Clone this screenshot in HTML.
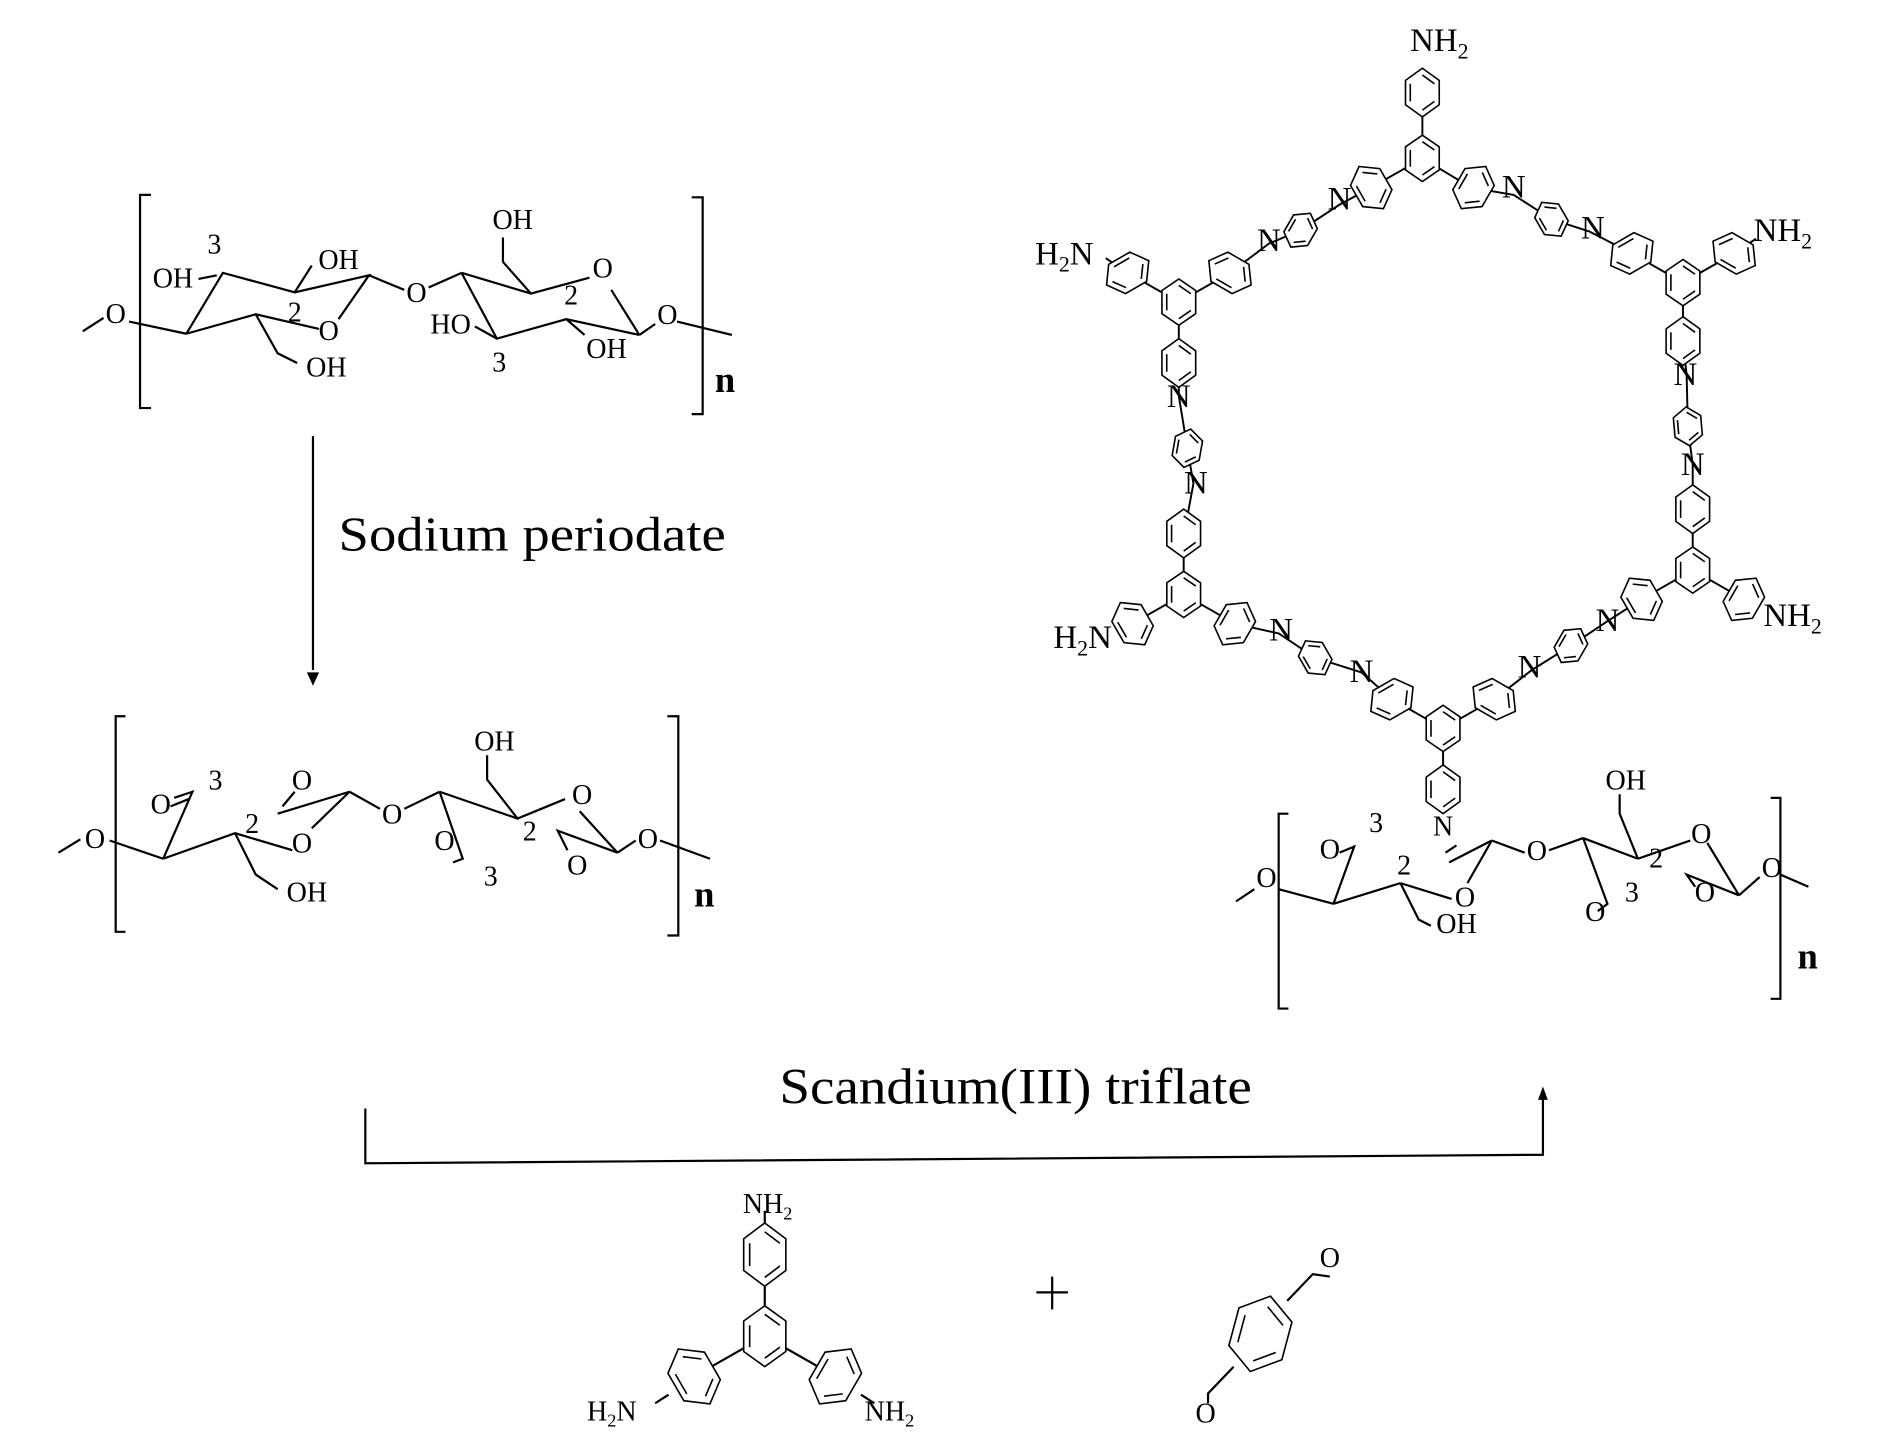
<!DOCTYPE html>
<html><head><meta charset="utf-8"><style>
html,body{margin:0;padding:0;background:#fff;width:1890px;height:1441px;overflow:hidden}
svg{display:block}
text{font-family:"Liberation Serif",serif;fill:#000}
</style></head><body>
<svg width="1890" height="1441" viewBox="0 0 1552 1183" preserveAspectRatio="none" xmlns="http://www.w3.org/2000/svg">
<defs>
<g id="bz">
<polygon points="0,-1 0.866,-0.5 0.866,0.5 0,1 -0.866,0.5 -0.866,-0.5" fill="#fff" stroke="#000" stroke-width="1.6" vector-effect="non-scaling-stroke"/>
<g stroke="#000" stroke-width="1.6" vector-effect="non-scaling-stroke" fill="none">
<line x1="0" y1="-0.72" x2="0.62" y2="-0.36" vector-effect="non-scaling-stroke"/>
<line x1="0.62" y1="0.36" x2="0" y2="0.72" vector-effect="non-scaling-stroke"/>
<line x1="-0.62" y1="0.36" x2="-0.62" y2="-0.36" vector-effect="non-scaling-stroke"/>
</g>
</g>
</defs>
<g stroke="#000" stroke-width="1.8" fill="none">
<polyline points="124,160 115,160 115,335 124,335"/>
<polyline points="568,162 577,162 577,340 568,340"/>
<line x1="68" y1="272" x2="85" y2="261"/>
<line x1="106" y1="264" x2="153" y2="274"/>
<polyline points="153,274 183,224 242,240 303,226 278,262"/>
<polyline points="262,270 210,258 153,274"/>
<line x1="163" y1="229" x2="178" y2="226"/>
<line x1="242" y1="240" x2="256" y2="218"/>
<polyline points="210,258 228,290 244,298"/>
<line x1="303" y1="226" x2="332" y2="238"/>
<line x1="352" y1="236" x2="379" y2="224"/>
<polyline points="379,224 436,241 484,228"/>
<line x1="502" y1="238" x2="525" y2="275"/>
<polyline points="525,275 465,262 408,278 379,224"/>
<line x1="390" y1="268" x2="408" y2="278"/>
<line x1="465" y1="262" x2="480" y2="275"/>
<polyline points="436,241 413,215 413,195"/>
<line x1="525" y1="275" x2="538" y2="266"/>
<line x1="556" y1="264" x2="601" y2="275"/>
<line x1="257" y1="358" x2="257" y2="550"/>
<polyline points="103,588 95,588 95,765 103,765"/>
<polyline points="548,588 557,588 557,768 548,768"/>
<line x1="48" y1="700" x2="66" y2="689"/>
<line x1="90" y1="690" x2="134" y2="705"/>
<polyline points="134,705 158,650 143,655"/>
<line x1="140" y1="662" x2="155" y2="656"/>
<polyline points="134,705 193,684 240,698"/>
<polyline points="256,680 287,650 228,668"/>
<line x1="232" y1="662" x2="242" y2="650"/>
<polyline points="193,684 210,718 228,730"/>
<line x1="287" y1="650" x2="312" y2="664"/>
<line x1="332" y1="664" x2="361" y2="650"/>
<polyline points="361,650 425,672 464,656"/>
<polyline points="425,672 400,640 400,620"/>
<polyline points="361,650 380,705 372,708"/>
<line x1="476" y1="666" x2="507" y2="700"/>
<polyline points="507,700 458,682 466,698"/>
<line x1="507" y1="700" x2="522" y2="690"/>
<line x1="542" y1="690" x2="583" y2="705"/>
<polyline points="300,910 300,955 1267,948 1267,900"/>
<line x1="628" y1="1097" x2="628" y2="1030"/>
<line x1="628" y1="1097" x2="570" y2="1130"/>
<line x1="628" y1="1097" x2="686" y2="1130"/>
<line x1="628" y1="1004" x2="628" y2="994"/>
<line x1="549" y1="1145" x2="538" y2="1152"/>
<line x1="707" y1="1145" x2="718" y2="1152"/>
<line x1="864" y1="1048" x2="864" y2="1075"/>
<line x1="851" y1="1061" x2="877" y2="1061"/>
<polyline points="1057,1068 1078,1046 1092,1048"/>
<polyline points="1013,1122 992,1144 992,1152"/>
<g stroke-width="1.6">
<line x1="1168" y1="130" x2="1168" y2="60"/>
<line x1="1168" y1="130" x2="1126" y2="154"/>
<line x1="1168" y1="130" x2="1208" y2="154"/>
<line x1="968" y1="248" x2="926" y2="224"/><line x1="926" y1="224" x2="908" y2="212"/>
<line x1="968" y1="248" x2="1010" y2="224"/>
<line x1="968" y1="248" x2="968" y2="296"/>
<line x1="1382" y1="232" x2="1340" y2="208"/>
<line x1="1382" y1="232" x2="1424" y2="208"/><line x1="1424" y1="208" x2="1442" y2="196"/>
<line x1="1382" y1="232" x2="1382" y2="280"/>
<line x1="972" y1="488" x2="972" y2="440"/>
<line x1="972" y1="488" x2="930" y2="512"/>
<line x1="972" y1="488" x2="1014" y2="512"/>
<line x1="1390" y1="468" x2="1390" y2="420"/>
<line x1="1390" y1="468" x2="1348" y2="492"/>
<line x1="1390" y1="468" x2="1432" y2="492"/>
<line x1="1185" y1="598" x2="1143" y2="574"/>
<line x1="1185" y1="598" x2="1227" y2="574"/>
<line x1="1185" y1="598" x2="1185" y2="668"/>
<polyline points="1126,154 1100,168 1068,189 1042,200 1010,224"/>
<polyline points="1208,154 1243,160 1274,180 1305,190 1340,208"/>
<polyline points="968,296 968,325 975,368 980,397 972,440"/>
<polyline points="1382,280 1385,308 1386,350 1390,382 1390,420"/>
<polyline points="1014,512 1050,520 1080,540 1118,552 1143,574"/>
<polyline points="1348,492 1320,510 1290,530 1258,550 1227,574"/>
</g>
<polyline points="1058,668 1050,668 1050,828 1058,828"/>
<polyline points="1454,655 1462,655 1462,820 1454,820"/>
<line x1="1015" y1="740" x2="1030" y2="730"/>
<line x1="1050" y1="730" x2="1095" y2="742"/>
<polyline points="1095,742 1112,695 1100,700"/>
<line x1="1095" y1="742" x2="1150" y2="725"/>
<line x1="1150" y1="725" x2="1192" y2="738"/>
<line x1="1205" y1="725" x2="1225" y2="690"/>
<line x1="1225" y1="690" x2="1190" y2="708"/>
<line x1="1187" y1="700" x2="1196" y2="694"/>
<line x1="1225" y1="690" x2="1252" y2="700"/>
<line x1="1272" y1="698" x2="1300" y2="688"/>
<line x1="1300" y1="688" x2="1345" y2="705"/>
<polyline points="1345,705 1330,668 1330,652"/>
<line x1="1345" y1="705" x2="1388" y2="690"/>
<line x1="1402" y1="692" x2="1428" y2="735"/>
<polyline points="1428,735 1385,718 1392,728"/>
<line x1="1428" y1="735" x2="1445" y2="720"/>
<line x1="1462" y1="718" x2="1485" y2="728"/>
<polyline points="1300,688 1320,742 1312,748"/>
<polyline points="1150,725 1165,755 1175,760"/>
</g>
<polygon points="252,552 262,552 257,563" fill="#000"/>
<polygon points="1263,903 1271,903 1267,892" fill="#000"/>
<g>
<use href="#bz" transform="translate(1168,130) scale(16,19)"/>
<use href="#bz" transform="translate(1168,76) scale(16,20)"/>
<use href="#bz" transform="translate(1126,154) rotate(-30) scale(16,20)"/>
<use href="#bz" transform="translate(1210,154) rotate(30) scale(16,20)"/>
<use href="#bz" transform="translate(968,248) scale(16,19)"/>
<use href="#bz" transform="translate(926,224) rotate(60) scale(16,20)"/>
<use href="#bz" transform="translate(1010,224) rotate(-60) scale(16,20)"/>
<use href="#bz" transform="translate(968,298) scale(16,20)"/>
<use href="#bz" transform="translate(1382,232) scale(16,19)"/>
<use href="#bz" transform="translate(1340,208) rotate(60) scale(16,20)"/>
<use href="#bz" transform="translate(1424,208) rotate(-60) scale(16,20)"/>
<use href="#bz" transform="translate(1382,280) scale(16,20)"/>
<use href="#bz" transform="translate(972,488) scale(16,19)"/>
<use href="#bz" transform="translate(972,438) scale(16,20)"/>
<use href="#bz" transform="translate(930,512) rotate(-30) scale(16,20)"/>
<use href="#bz" transform="translate(1014,512) rotate(30) scale(16,20)"/>
<use href="#bz" transform="translate(1390,468) scale(16,19)"/>
<use href="#bz" transform="translate(1390,418) scale(16,20)"/>
<use href="#bz" transform="translate(1348,492) rotate(-30) scale(16,20)"/>
<use href="#bz" transform="translate(1432,492) rotate(30) scale(16,20)"/>
<use href="#bz" transform="translate(1185,598) scale(16,19)"/>
<use href="#bz" transform="translate(1143,574) rotate(60) scale(16,20)"/>
<use href="#bz" transform="translate(1227,574) rotate(-60) scale(16,20)"/>
<use href="#bz" transform="translate(1185,648) scale(16,20)"/>
<use href="#bz" transform="translate(1068,189) rotate(30) scale(13,16)"/>
<use href="#bz" transform="translate(1274,180) rotate(-30) scale(13,16)"/>
<use href="#bz" transform="translate(975,368) rotate(10) scale(13,16)"/>
<use href="#bz" transform="translate(1386,350) rotate(-5) scale(13,16)"/>
<use href="#bz" transform="translate(1080,540) rotate(-30) scale(13,16)"/>
<use href="#bz" transform="translate(1290,530) rotate(30) scale(13,16)"/>
<use href="#bz" transform="translate(628,1097) scale(20,25)"/>
<use href="#bz" transform="translate(628,1030) scale(20,26)"/>
<use href="#bz" transform="translate(570,1130) rotate(-30) scale(20,26)"/>
<use href="#bz" transform="translate(686,1130) rotate(30) scale(20,26)"/>
<use href="#bz" transform="translate(1035,1095) rotate(15) scale(26,32)"/>
</g>
<g font-size="23" text-anchor="middle">
<text x="95" y="265">O</text>
<text x="176" y="208">3</text>
<text x="142" y="236">OH</text>
<text x="278" y="221">OH</text>
<text x="242" y="264">2</text>
<text x="270" y="279">O</text>
<text x="268" y="309">OH</text>
<text x="342" y="248">O</text>
<text x="421" y="188">OH</text>
<text x="469" y="250">2</text>
<text x="495" y="228">O</text>
<text x="370" y="274">HO</text>
<text x="410" y="305">3</text>
<text x="498" y="294">OH</text>
<text x="548" y="266">O</text>
<text x="78" y="696">O</text>
<text x="132" y="668">O</text>
<text x="177" y="648">3</text>
<text x="207" y="684">2</text>
<text x="248" y="700">O</text>
<text x="248" y="648">O</text>
<text x="252" y="740">OH</text>
<text x="322" y="676">O</text>
<text x="406" y="616">OH</text>
<text x="435" y="690">2</text>
<text x="478" y="660">O</text>
<text x="365" y="698">O</text>
<text x="403" y="727">3</text>
<text x="474" y="718">O</text>
<text x="532" y="696">O</text>
<text x="1040" y="728">O</text>
<text x="1092" y="705">O</text>
<text x="1130" y="683">3</text>
<text x="1153" y="718">2</text>
<text x="1203" y="744">O</text>
<text x="1185" y="686">N</text>
<text x="1262" y="706">O</text>
<text x="1335" y="648">OH</text>
<text x="1360" y="712">2</text>
<text x="1397" y="692">O</text>
<text x="1400" y="740">O</text>
<text x="1455" y="720">O</text>
<text x="1310" y="756">O</text>
<text x="1340" y="740">3</text>
<text x="1196" y="766">OH</text>
</g>
<g font-size="27">
<text x="1158" y="42">NH<tspan font-size="18" dy="6">2</tspan></text>
<text x="850" y="217">H<tspan font-size="18" dy="6">2</tspan><tspan dy="-6">N</tspan></text>
<text x="1440" y="198">NH<tspan font-size="18" dy="6">2</tspan></text>
<text x="865" y="532">H<tspan font-size="18" dy="6">2</tspan><tspan dy="-6">N</tspan></text>
<text x="1448" y="514">NH<tspan font-size="18" dy="6">2</tspan></text>
<text x="1100" y="172" text-anchor="middle">N</text>
<text x="1042" y="206" text-anchor="middle">N</text>
<text x="1243" y="162" text-anchor="middle">N</text>
<text x="1308" y="196" text-anchor="middle">N</text>
<text x="968" y="334" text-anchor="middle">N</text>
<text x="982" y="405" text-anchor="middle">N</text>
<text x="1384" y="316" text-anchor="middle">N</text>
<text x="1390" y="390" text-anchor="middle">N</text>
<text x="1052" y="526" text-anchor="middle">N</text>
<text x="1118" y="560" text-anchor="middle">N</text>
<text x="1320" y="518" text-anchor="middle">N</text>
<text x="1256" y="556" text-anchor="middle">N</text>
</g>
<text x="587" y="322" font-size="30" font-weight="bold">n</text>
<text x="570" y="744" font-size="30" font-weight="bold">n</text>
<text x="1476" y="795" font-size="30" font-weight="bold">n</text>
<text x="278" y="452" font-size="40" textLength="318" lengthAdjust="spacingAndGlyphs">Sodium periodate</text>
<text x="640" y="906" font-size="42" textLength="388" lengthAdjust="spacingAndGlyphs">Scandium(III) triflate</text>
<g font-size="23">
<text x="610" y="996">NH<tspan font-size="15" dy="5">2</tspan></text>
<text x="482" y="1166">H<tspan font-size="15" dy="5">2</tspan><tspan dy="-5">N</tspan></text>
<text x="710" y="1166">NH<tspan font-size="15" dy="5">2</tspan></text>
<text x="1092" y="1040" text-anchor="middle">O</text>
<text x="990" y="1168" text-anchor="middle">O</text>
</g>
</svg>
</body></html>
